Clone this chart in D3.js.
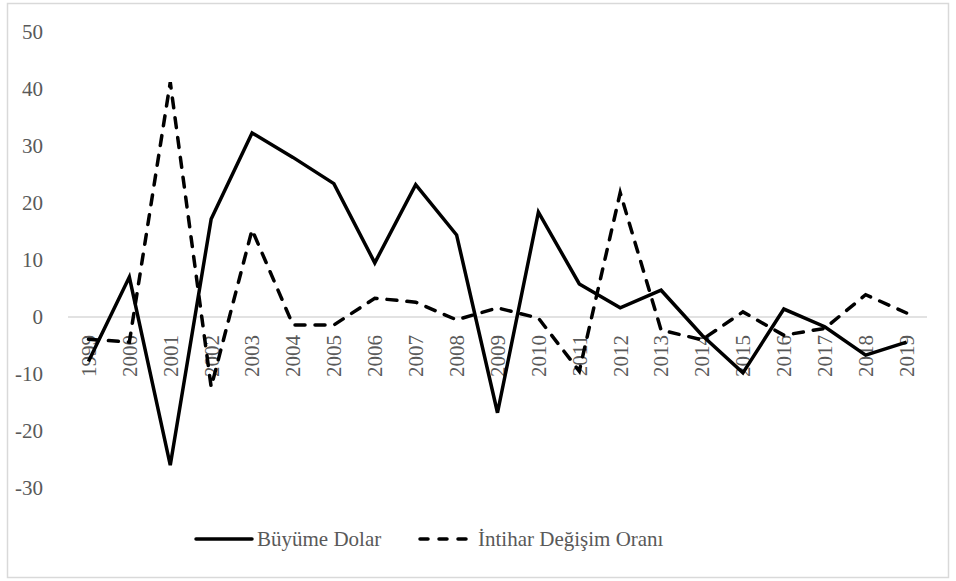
<!DOCTYPE html>
<html>
<head>
<meta charset="utf-8">
<script src="https://cdn.jsdelivr.net/npm/d3@7"></script>
<style>
  body { margin: 0; background: #fff; }
  svg text { font-family: "Liberation Serif", "Times New Roman", serif; fill: #595959; }
</style>
</head>
<body>
<div id="vis"></div>
<script>
const years = ["1999", "2000", "2001", "2002", "2003", "2004", "2005", "2006", "2007", "2008",
    "2009", "2010", "2011", "2012", "2013", "2014", "2015", "2016", "2017", "2018", "2019"];
const buyumeDolar = [-7.8, 7.0, -26.0, 17.2, 32.3, 28.0, 23.4, 9.5, 23.2, 14.4,
    -16.8, 18.4, 5.8, 1.6, 4.7, -3.2, -9.8, 1.4, -1.7, -6.7, -4.4];
const intiharOrani = [-3.9, -4.4, 41.2, -12.3, 15.3, -1.4, -1.4, 3.3, 2.6, -0.5,
    1.6, -0.2, -9.5, 21.8, -2.3, -4.0, 0.9, -3.2, -2.0, 3.9, 0.7];
const yTicks = [-30, -20, -10, 0, 10, 20, 30, 40, 50];
const seriesNames = ["Büyüme Dolar", "İntihar Değişim Oranı"];

(function () {
    const W = 956, H = 581;
    const svg = d3.select("#vis").append("svg")
        .attr("width", W)
        .attr("height", H);

    // chart border
    svg.append("rect")
        .attr("x", 7.5).attr("y", 3.5)
        .attr("width", 941).attr("height", 574)
        .attr("fill", "#fff")
        .attr("stroke", "#d9d9d9")
        .attr("stroke-width", 1.5);

    const x = d3.scaleBand().domain(years).range([68, 927]);
    const y = d3.scaleLinear().domain([-30, 50]).range([488, 32]);

    // y labels (no axis line, no gridlines)
    svg.append("g").selectAll("text")
        .data(yTicks)
        .enter().append("text")
        .attr("x", 43)
        .attr("y", d => y(d))
        .attr("dy", "0.35em")
        .attr("text-anchor", "end")
        .style("font-size", "21px")
        .text(d => d);

    // horizontal axis at zero
    svg.append("line")
        .attr("x1", x.range()[0]).attr("x2", x.range()[1])
        .attr("y1", y(0)).attr("y2", y(0))
        .attr("stroke", "#d9d9d9")
        .attr("stroke-width", 1.5);

    svg.append("g").selectAll("text")
        .data(years)
        .enter().append("text")
        .attr("transform", d => `translate(${x(d) + x.bandwidth() / 2},${y(0) + 18}) rotate(-90)`)
        .attr("dy", "0.35em")
        .attr("text-anchor", "end")
        .style("font-size", "21px")
        .text(d => d);

    const line = d3.line()
        .x((d, i) => x(years[i]) + x.bandwidth() / 2)
        .y(d => y(d));

    svg.append("path")
        .datum(buyumeDolar)
        .attr("fill", "none")
        .attr("stroke", "#000")
        .attr("stroke-width", 3.5)
        .attr("stroke-linejoin", "miter")
        .attr("d", line);

    svg.append("path")
        .datum(intiharOrani)
        .attr("fill", "none")
        .attr("stroke", "#000")
        .attr("stroke-width", 3.5)
        .attr("stroke-linecap", "round")
        .attr("stroke-dasharray", "10,10")
        .attr("d", line);

    // legend
    const legY = 539;
    svg.append("line")
        .attr("x1", 196).attr("x2", 252)
        .attr("y1", legY).attr("y2", legY)
        .attr("stroke", "#000")
        .attr("stroke-width", 3.5)
        .attr("stroke-linecap", "round");
    svg.append("text")
        .attr("x", 257).attr("y", legY)
        .attr("dy", "0.35em")
        .style("font-size", "21px")
        .text(seriesNames[0]);

    svg.append("line")
        .attr("x1", 420).attr("x2", 473)
        .attr("y1", legY).attr("y2", legY)
        .attr("stroke", "#000")
        .attr("stroke-width", 3.5)
        .attr("stroke-linecap", "round")
        .attr("stroke-dasharray", "8,11");
    svg.append("text")
        .attr("x", 478).attr("y", legY)
        .attr("dy", "0.35em")
        .style("font-size", "21px")
        .text(seriesNames[1]);
})();
</script>
</body>
</html>
